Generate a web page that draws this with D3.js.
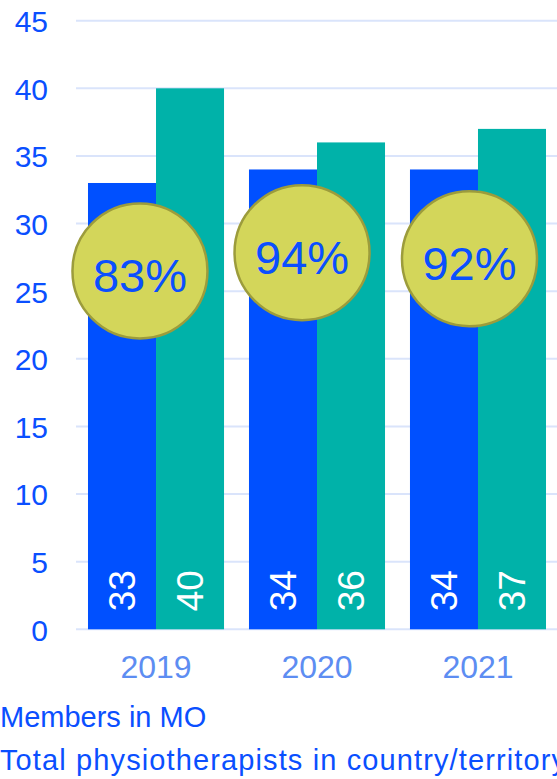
<!DOCTYPE html>
<html>
<head>
<meta charset="utf-8">
<script src="https://cdn.jsdelivr.net/npm/d3@7"></script>
<style>
  body { margin: 0; background: #fff; }
  svg { display: block; font-family: "Liberation Sans", Arial, sans-serif; }
</style>
</head>
<body>
<script>
// data
var years = ["2019", "2020", "2021"];
var seriesNames = ["Members in MO", "Total physiotherapists in country/territory"];
var members = [33, 34, 34];
var totals = [40, 36, 37];
var shares = ["83%", "94%", "92%"];
var yTicks = [0, 5, 10, 15, 20, 25, 30, 35, 40, 45];
// where each bubble sits, in data units (value) and share of the group width
var bubbleLevel = [26.5, 27.85, 27.4];
var bubbleAlong = [0.382, 0.39, 0.4375];

var W = 557, H = 779;
var colors = ["#0050ff", "#00b2a9"];

var svg = d3.select("body").append("svg")
    .attr("width", W)
    .attr("height", H);

// scales
var x0 = d3.scaleBand().domain(years).range([75.5, 558.5])
    .paddingInner(0.155).paddingOuter(0.0776);
var x1 = d3.scaleBand().domain([0, 1]).range([0, x0.bandwidth()]);
var y = d3.scaleLinear().domain([0, 45]).range([629.3, 20.7]);

// grid lines
svg.append("g")
  .selectAll("line")
  .data(yTicks)
  .enter().append("line")
    .attr("x1", 76)
    .attr("x2", W)
    .attr("y1", function(d) { return y(d); })
    .attr("y2", function(d) { return y(d); })
    .attr("stroke", "#dae4fb")
    .attr("stroke-width", 2);

// y axis labels
var yAxis = d3.axisLeft(y).tickValues(yTicks).tickSize(0).tickPadding(0);
var yg = svg.append("g")
    .attr("transform", "translate(48,0)")
    .call(yAxis);
yg.select(".domain").remove();
yg.selectAll("text")
    .attr("fill", "#0a4fff")
    .style("font-size", "30px")
    .attr("dy", "0.36em");

// bars
var rows = years.map(function(yr, i) {
  return {year: yr, i: i, vals: [members[i], totals[i]]};
});

var groups = svg.selectAll(".grp")
  .data(rows)
  .enter().append("g")
    .attr("class", "grp")
    .attr("transform", function(d) { return "translate(" + x0(d.year) + ",0)"; });

groups.selectAll("rect")
  .data(function(d) { return d.vals.map(function(v, k) { return {k: k, v: v}; }); })
  .enter().append("rect")
    .attr("x", function(d) { return x1(d.k); })
    .attr("width", x1.bandwidth())
    .attr("y", function(d) { return y(d.v); })
    .attr("height", function(d) { return y(0) - y(d.v); })
    .attr("fill", function(d) { return colors[d.k]; });

// value labels inside bars
groups.selectAll(".val")
  .data(function(d) { return d.vals.map(function(v, k) { return {k: k, v: v}; }); })
  .enter().append("text")
    .attr("class", "val")
    .attr("transform", function(d) {
      return "translate(" + (x1(d.k) + x1.bandwidth() / 2) + "," + (y(0) - 18) + ") rotate(-90)";
    })
    .attr("dy", "0.36em")
    .attr("fill", "#fff")
    .style("font-size", "37px")
    .text(function(d) { return d.v; });

// year labels
svg.append("g")
  .selectAll("text")
  .data(years)
  .enter().append("text")
    .attr("x", function(d) { return x0(d) + x0.bandwidth() / 2; })
    .attr("y", 678)
    .attr("text-anchor", "middle")
    .attr("fill", "#5d8df2")
    .style("font-size", "32px")
    .text(function(d) { return d; });

// percentage bubbles
var bub = svg.selectAll(".bub")
  .data(rows)
  .enter().append("g")
    .attr("class", "bub")
    .attr("transform", function(d) {
      return "translate(" + (x0(d.year) + x0.bandwidth() * bubbleAlong[d.i]) + "," + y(bubbleLevel[d.i]) + ")";
    });

bub.append("circle")
    .attr("r", 67.5)
    .attr("fill", "#d3d65a")
    .attr("stroke", "#9c9c3c")
    .attr("stroke-width", 2.5);

bub.append("text")
    .attr("text-anchor", "middle")
    .attr("y", 21)
    .attr("fill", "#0a4fff")
    .style("font-size", "47px")
    .text(function(d) { return shares[d.i]; });

// legend (text only, markers fall outside the frame)
svg.append("g")
  .selectAll("text")
  .data(seriesNames)
  .enter().append("text")
    .attr("x", 0)
    .attr("y", function(d, i) { return 727 + i * 43; })
    .attr("fill", "#0a4fff")
    .style("font-size", "29px")
    .each(function(d, i) {
      // second line runs a bit wider in the original
      if (i === 1) d3.select(this).attr("textLength", 566).attr("lengthAdjust", "spacing");
    })
    .text(function(d) { return d; });
</script>
</body>
</html>
